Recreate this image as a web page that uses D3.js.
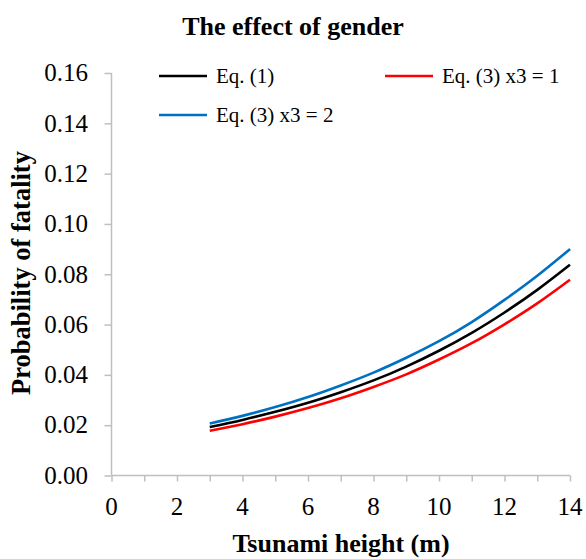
<!DOCTYPE html>
<html>
<head>
<meta charset="utf-8">
<script src="https://cdn.jsdelivr.net/npm/d3@7"></script>
<style>
  body { margin: 0; background: #fff; }
</style>
</head>
<body>
<div id="viz"></div>
<script>
// tsunami height (m)
var heights = [3, 4, 5, 6, 7, 8, 9, 10, 11, 12, 13, 14];
// probability of fatality
var eq1 = [0.0193, 0.0221, 0.0253, 0.0289, 0.0331, 0.0378, 0.0433, 0.0496, 0.0567, 0.0648, 0.0738, 0.0838];
var eq3x1 = [0.0178, 0.0204, 0.0234, 0.0268, 0.0307, 0.0352, 0.0402, 0.0461, 0.0526, 0.0601, 0.0684, 0.0778];
var eq3x2 = [0.0207, 0.0237, 0.0272, 0.0312, 0.0358, 0.0409, 0.0468, 0.0534, 0.0610, 0.0698, 0.0794, 0.0900];
var xTicks = [0, 2, 4, 6, 8, 10, 12, 14];
var yTicks = [0, 0.02, 0.04, 0.06, 0.08, 0.10, 0.12, 0.14, 0.16];
var seriesNames = ['Eq. (1)', 'Eq. (3) x3 = 1', 'Eq. (3) x3 = 2'];
var seriesColors = ['#000000', '#ff0000', '#0070c0'];

var width = 586, height = 559;
var serif = '"Liberation Serif", "Times New Roman", "DejaVu Serif", serif';

var svg = d3.select('#viz').append('svg')
  .attr('width', width)
  .attr('height', height)
  .style('font-family', serif);

var x = d3.scaleLinear().domain([0, 14]).range([111.5, 570]);
var y = d3.scaleLinear().domain([0, 0.16]).range([475.5, 73]);

var axisColor = '#bfbfbf';
var tickFont = '25px';

// x axis (minor ticks every 1 m)
var xAxis = svg.append('g')
  .attr('transform', 'translate(0,' + y(0) + ')')
  .call(d3.axisBottom(x).tickValues(d3.range(0, 15, 1)).tickSize(6).tickFormat(''));
xAxis.select('.domain').attr('stroke', axisColor).attr('stroke-width', 1.5)
  .attr('d', 'M' + x(0) + ',0H' + x(14));
xAxis.selectAll('.tick line').attr('stroke', axisColor).attr('stroke-width', 1.5);

svg.append('g').selectAll('text')
  .data(xTicks)
  .join('text')
  .attr('x', function(d) { return x(d); })
  .attr('y', 515)
  .attr('text-anchor', 'middle')
  .attr('font-family', serif)
  .style('font-size', tickFont)
  .text(function(d) { return d; });

// y axis
var yAxis = svg.append('g')
  .attr('transform', 'translate(' + x(0) + ',0)')
  .call(d3.axisLeft(y).tickValues(yTicks).tickSize(7).tickFormat(''));
yAxis.select('.domain').attr('stroke', axisColor).attr('stroke-width', 1.5)
  .attr('d', 'M0,' + y(0.16) + 'V' + y(0));
yAxis.selectAll('.tick line').attr('stroke', axisColor).attr('stroke-width', 1.5);

svg.append('g').selectAll('text')
  .data(yTicks)
  .join('text')
  .attr('x', 88)
  .attr('y', function(d) { return y(d); })
  .attr('dy', '0.33em')
  .attr('text-anchor', 'end')
  .attr('font-family', serif)
  .style('font-size', tickFont)
  .text(function(d) { return d3.format('.2f')(d); });

// curves
var line = d3.line()
  .x(function(d) { return x(d[0]); })
  .y(function(d) { return y(d[1]); })
  .curve(d3.curveNatural);

[eq1, eq3x1, eq3x2].forEach(function(vals, i) {
  svg.append('path')
    .datum(d3.zip(heights, vals))
    .attr('fill', 'none')
    .attr('stroke', seriesColors[i])
    .attr('stroke-width', 2.6)
    .attr('d', line);
});

// legend
var legendPos = [[159, 76], [385, 76], [159, 115]];
seriesNames.forEach(function(name, i) {
  var p = legendPos[i];
  svg.append('line')
    .attr('x1', p[0]).attr('x2', p[0] + 48)
    .attr('y1', p[1]).attr('y2', p[1])
    .attr('stroke', seriesColors[i])
    .attr('stroke-width', 2.6);
  svg.append('text')
    .attr('x', p[0] + 57)
    .attr('y', p[1])
    .attr('dy', '0.33em')
    .attr('font-family', serif)
    .style('font-size', '21px')
    .text(name);
});

// titles
svg.append('text')
  .attr('x', 293).attr('y', 35)
  .attr('text-anchor', 'middle')
  .attr('font-family', serif)
  .style('font-size', '26px').style('font-weight', 'bold')
  .text('The effect of gender');

svg.append('text')
  .attr('x', 341).attr('y', 552)
  .attr('text-anchor', 'middle')
  .attr('font-family', serif)
  .style('font-size', '26px').style('font-weight', 'bold')
  .text('Tsunami height (m)');

svg.append('text')
  .attr('transform', 'translate(30,273) rotate(-90)')
  .attr('text-anchor', 'middle')
  .attr('font-family', serif)
  .style('font-size', '26.5px').style('font-weight', 'bold')
  .text('Probability of fatality');
</script>
</body>
</html>
